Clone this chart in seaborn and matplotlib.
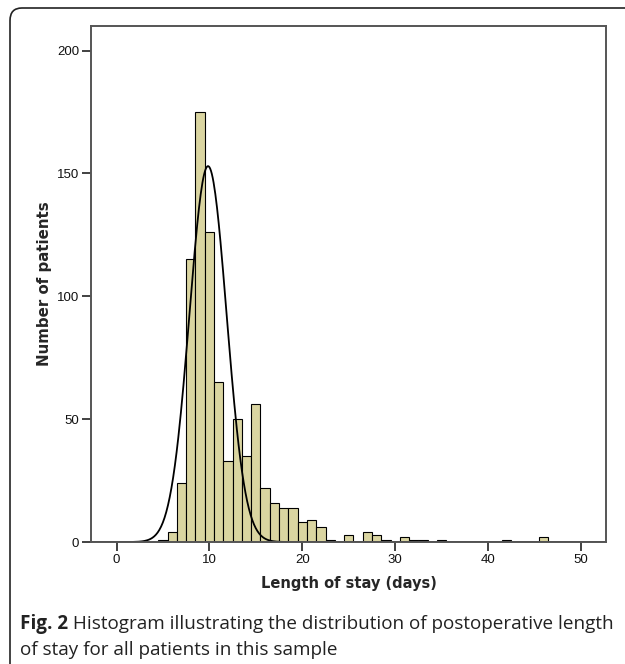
import numpy as np
import pandas as pd
import matplotlib
matplotlib.use("Agg")
import matplotlib.pyplot as plt
from matplotlib.patches import FancyBboxPatch
import seaborn as sns

# ---- data ----
days = [5, 6, 7, 8, 9, 10, 11, 12, 13, 14, 15, 16, 17, 18, 19, 20, 21, 22, 23,
        25, 27, 28, 29, 31, 32, 33, 35, 42, 46]
counts = [1, 4, 24, 115, 175, 126, 65, 33, 50, 35, 56, 22, 16, 14, 14, 8, 9, 6, 1,
          3, 4, 3, 1, 2, 1, 1, 1, 1, 2]
curve_mean = 9.85
curve_sd = 2.0
curve_peak = 153
x_ticks = [0, 10, 20, 30, 40, 50]
y_ticks = [0, 50, 100, 150, 200]
x_label = "Length of stay (days)"
y_label = "Number of patients"
caption_bold = "Fig. 2"
caption_line1 = " Histogram illustrating the distribution of postoperative length"
caption_line2 = "of stay for all patients in this sample"

df = pd.DataFrame({"days": days, "count": counts})

sns.set_style("white")
plt.rcParams["font.family"] = ["Liberation Sans", "DejaVu Sans"]

fig = plt.figure(figsize=(6.25, 6.64), dpi=100)
ax = fig.add_axes([0.1456, 0.1837, 0.824, 0.7771])

sns.histplot(data=df, x="days", weights="count", discrete=True, ax=ax,
             color="#DAD5A1", edgecolor="black", linewidth=0.8, alpha=1)

xs = np.linspace(-2.8, 52.7, 600)
ys = curve_peak * np.exp(-0.5 * ((xs - curve_mean) / curve_sd) ** 2)
sns.lineplot(x=xs, y=ys, ax=ax, color="black", linewidth=1.3)

ax.set_xlim(-2.75, 52.7)
ax.set_ylim(0, 210)
ax.set_xticks(x_ticks)
ax.set_yticks(y_ticks)
ax.tick_params(axis="both", direction="out", length=6.5, width=1.3, color="#333333",
               labelsize=9.5, pad=2, left=True, bottom=True, labelcolor="#111111")
for lab in ax.get_xticklabels() + ax.get_yticklabels():
    lab.set_family(["Liberation Sans", "DejaVu Sans"])
for s in ax.spines.values():
    s.set_color("#555555")
    s.set_linewidth(1.4)
ax.set_xlabel(x_label, fontsize=10.5, fontweight="bold", family="DejaVu Sans", labelpad=7)
ax.set_ylabel(y_label, fontsize=10.8, fontweight="bold", family="DejaVu Sans")
ax.yaxis.set_label_coords(-0.076, 0.5)

# outer rounded frame
box = FancyBboxPatch((10 / 625, -0.05), 1.2, (664 - 8) / 664 + 0.05,
                     boxstyle="round,pad=0,rounding_size=0.019",
                     transform=fig.transFigure, fill=False, edgecolor="#222222",
                     linewidth=1.2, clip_on=False)
fig.patches.append(box)

# caption
cap_size = 13.55
t1 = fig.text(20 / 625, 1 - 629 / 664, caption_bold, fontsize=cap_size, fontweight="bold",
              family="Open Sans", va="baseline", ha="left", color="#222222")
fig.canvas.draw()
bb = t1.get_window_extent()
fig.text(bb.x1 / fig.bbox.width, 1 - 629 / 664, caption_line1, fontsize=cap_size,
         family="Open Sans", va="baseline", ha="left", color="#222222")
fig.text(20 / 625, 1 - 655 / 664, caption_line2, fontsize=cap_size,
         family="Open Sans", va="baseline", ha="left", color="#222222")

fig.savefig("out.png", dpi=100)
